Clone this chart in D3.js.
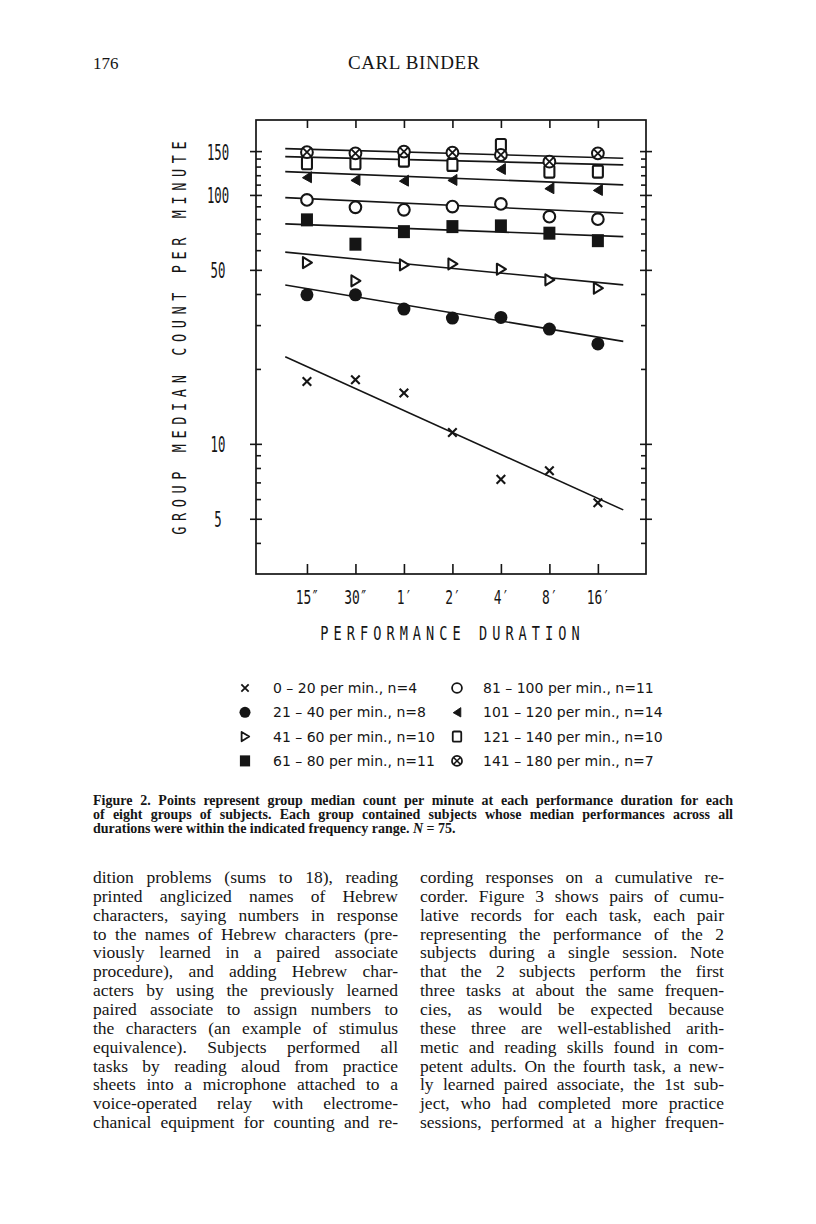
<!DOCTYPE html>
<html>
<head>
<meta charset="utf-8">
<script src="https://cdn.jsdelivr.net/npm/d3@7"></script>
<style>
  body { margin: 0; background: #fff; }
  svg { display: block; }
</style>
</head>
<body>
<svg id="page" width="816" height="1224"></svg>
<script>
// performance durations, in seconds
var durations = [15, 30, 60, 120, 240, 480, 960];
var durationLabels = ['15\u2033', '30\u2033', '1\u2032', '2\u2032', '4\u2032', '8\u2032', '16\u2032'];

var yMajorTicks = [5, 10, 50, 100, 150];
var yMinorTicks = [4, 6, 7, 8, 9, 20, 30, 40, 60, 70, 80, 90, 110, 120, 130, 140];

var groupLabels = [
    '0 \u2013 20 per min., n=4',
    '21 \u2013 40 per min., n=8',
    '41 \u2013 60 per min., n=10',
    '61 \u2013 80 per min., n=11',
    '81 \u2013 100 per min., n=11',
    '101 \u2013 120 per min., n=14',
    '121 \u2013 140 per min., n=10',
    '141 \u2013 180 per min., n=7'
];

// group median count per minute at each duration
var medians0to20 = [17.8, 18.1, 16.0, 11.1, 7.2, 7.8, 5.8];
var medians21to40 = [39.7, 39.7, 34.8, 32.0, 32.2, 28.9, 25.2];
var medians41to60 = [53.5, 45.2, 52.4, 52.8, 50.3, 45.6, 42.2];
var medians61to80 = [79.4, 63.4, 71.2, 74.6, 75.1, 70.2, 65.5];
var medians81to100 = [95.5, 89.2, 87.1, 89.8, 92.0, 81.8, 79.9];
var medians101to120 = [117.8, 114.9, 114.1, 114.9, 127.2, 106.4, 104.7];
var medians121to140 = [134.1, 134.1, 137.4, 132.0, 158.8, 124.1, 124.1];
var medians141to180 = [148.5, 147.0, 149.3, 147.8, 144.7, 136.0, 147.0];

// fitted lines: value at start and end duration
var fitFrom = 11, fitTo = 1380;
var fitStart = [22.4, 43.5, 58.9, 76.5, 97.5, 124.1, 142.5, 153.5];
var fitEnd = [5.43, 25.8, 43.5, 68.0, 84.4, 109.7, 132.0, 140.4];

var captionLines = [
    'Figure 2.  Points represent group median count per minute at each performance duration for each',
    'of eight groups of subjects. Each group contained subjects whose median performances across all'
];

var leftColumn = [
    'dition problems (sums to 18), reading',
    'printed anglicized names of Hebrew',
    'characters, saying numbers in response',
    'to the names of Hebrew characters (pre-',
    'viously learned in a paired associate',
    'procedure), and adding Hebrew char-',
    'acters by using the previously learned',
    'paired associate to assign numbers to',
    'the characters (an example of stimulus',
    'equivalence). Subjects performed all',
    'tasks by reading aloud from practice',
    'sheets into a microphone attached to a',
    'voice-operated relay with electrome-',
    'chanical equipment for counting and re-'
];
var rightColumn = [
    'cording responses on a cumulative re-',
    'corder. Figure 3 shows pairs of cumu-',
    'lative records for each task, each pair',
    'representing the performance of the 2',
    'subjects during a single session. Note',
    'that the 2 subjects perform the first',
    'three tasks at about the same frequen-',
    'cies, as would be expected because',
    'these three are well-established arith-',
    'metic and reading skills found in com-',
    'petent adults. On the fourth task, a new-',
    'ly learned paired associate, the 1st sub-',
    'ject, who had completed more practice',
    'sessions, performed at a higher frequen-'
];

var series = [medians0to20, medians21to40, medians41to60, medians61to80,
    medians81to100, medians101to120, medians121to140, medians141to180];
var symbols = ['cross', 'dot', 'triRight', 'squareFill', 'circle', 'triLeft', 'squareOpen', 'circleCross'];

var ink = '#151515';
var serif = '"Liberation Serif", "Times New Roman", serif';
var mono = '"DejaVu Sans Mono", monospace';

var svg = d3.select('#page');

var x = d3.scaleLog().base(2).domain([7.24, 1910]).range([256, 646]);
var y = d3.scaleLog().domain([3, 200]).range([574, 120]);

// page header
svg.append('text').attr('x', 93).attr('y', 69)
    .style('font-family', serif).style('font-size', '17px').attr('fill', ink)
    .text('176');
svg.append('text').attr('x', 414).attr('y', 69).attr('text-anchor', 'middle')
    .style('font-family', serif).style('font-size', '19px').style('letter-spacing', '0.6px').attr('fill', ink)
    .text('CARL BINDER');

// lettering guide style text, horizontally condensed
function lettering(parent, str, tx, ty, size, sx, spacing, rot) {
    return parent.append('text')
        .attr('transform', 'translate(' + tx + ',' + ty + ')' + (rot ? ' rotate(' + rot + ')' : '') + ' scale(' + sx + ',1)')
        .attr('text-anchor', 'middle')
        .attr('dominant-baseline', 'central')
        .attr('dx', spacing / 2)
        .attr('fill', ink)
        .style('font-family', mono)
        .style('font-size', size + 'px')
        .style('letter-spacing', spacing + 'px')
        .text(str);
}

var chart = svg.append('g');

chart.append('rect')
    .attr('x', x.range()[0]).attr('y', y.range()[1])
    .attr('width', x.range()[1] - x.range()[0])
    .attr('height', y.range()[0] - y.range()[1])
    .attr('fill', 'none').attr('stroke', ink).attr('stroke-width', 1.7);

function styleAxis(g) {
    g.select('.domain').remove();
    g.selectAll('line').attr('stroke', ink).attr('stroke-width', 1.6);
}

// left axis: minor ticks inside, major ticks crossing
chart.append('g').attr('transform', 'translate(256,0)')
    .call(d3.axisRight(y).tickValues(yMinorTicks).tickSize(5).tickFormat(''))
    .call(styleAxis);
chart.append('g').attr('transform', 'translate(256,0)')
    .call(d3.axisRight(y).tickValues(yMajorTicks).tickSize(6).tickFormat(''))
    .call(styleAxis);
var yLabels = chart.append('g').attr('transform', 'translate(256,0)')
    .call(d3.axisLeft(y).tickValues(yMajorTicks).tickSize(6).tickFormat(d3.format('d')))
    .call(styleAxis);
yLabels.selectAll('text')
    .attr('x', -38 / 0.56).attr('dy', '0.36em')
    .attr('text-anchor', 'middle')
    .attr('transform', 'scale(0.56,1)')
    .attr('fill', ink)
    .style('font-family', mono).style('font-size', '22px');

// right axis
chart.append('g').attr('transform', 'translate(646,0)')
    .call(d3.axisLeft(y).tickValues(yMinorTicks).tickSize(5).tickFormat(''))
    .call(styleAxis);
chart.append('g').attr('transform', 'translate(646,0)')
    .call(d3.axisLeft(y).tickValues(yMajorTicks).tickSize(6).tickFormat(''))
    .call(styleAxis);
chart.append('g').attr('transform', 'translate(646,0)')
    .call(d3.axisRight(y).tickValues(yMajorTicks).tickSize(6).tickFormat(''))
    .call(styleAxis);

// bottom and top ticks
chart.append('g').attr('transform', 'translate(0,574)')
    .call(d3.axisTop(x).tickValues(durations).tickSize(10).tickFormat(''))
    .call(styleAxis);
chart.append('g').attr('transform', 'translate(0,120)')
    .call(d3.axisBottom(x).tickValues(durations).tickSize(8).tickFormat(''))
    .call(styleAxis);
var xLabels = chart.append('g').attr('transform', 'translate(0,574)')
    .call(d3.axisBottom(x).tickValues(durations).tickSize(0).tickFormat(function (d, i) { return durationLabels[i]; }))
    .call(styleAxis);
xLabels.selectAll('text')
    .attr('y', 23).attr('dy', '0.36em')
    .attr('transform', 'scale(0.68,1)')
    .attr('fill', ink)
    .style('font-family', mono).style('font-size', '19px');

lettering(chart, 'PERFORMANCE DURATION', 450, 633, 20, 0.68, 7.4);
lettering(chart, 'GROUP MEDIAN COUNT PER MINUTE', 179, 338, 20, 0.68, 8.2, -90);

// fitted lines
var line = d3.line().x(function (d) { return x(d[0]); }).y(function (d) { return y(d[1]); });
chart.append('g').selectAll('path')
    .data(fitStart.map(function (s, i) { return [[fitFrom, s], [fitTo, fitEnd[i]]]; }))
    .join('path')
    .attr('d', line)
    .attr('fill', 'none').attr('stroke', ink).attr('stroke-width', 1.6);

function marker(g, kind) {
    switch (kind) {
        case 'cross':
            g.append('path').attr('d', 'M-4.3,-4.3L4.3,4.3M-4.3,4.3L4.3,-4.3')
                .attr('stroke', ink).attr('stroke-width', 2.1).attr('fill', 'none');
            break;
        case 'dot':
            g.append('circle').attr('r', 6.5).attr('fill', ink);
            break;
        case 'triRight':
            g.append('path').attr('d', 'M-4,-5.5L5,0L-4,5.5Z')
                .attr('stroke', ink).attr('stroke-width', 2.1).attr('stroke-linejoin', 'round').attr('fill', '#fff');
            break;
        case 'squareFill':
            g.append('rect').attr('x', -6).attr('y', -6.5).attr('width', 12).attr('height', 13).attr('fill', ink);
            break;
        case 'circle':
            g.append('circle').attr('r', 5.8)
                .attr('stroke', ink).attr('stroke-width', 2.1).attr('fill', '#fff');
            break;
        case 'triLeft':
            g.append('path').attr('d', 'M4.5,-5.5L-4.5,0.5L4.5,5.5Z')
                .attr('stroke', ink).attr('stroke-width', 1).attr('stroke-linejoin', 'round').attr('fill', ink);
            break;
        case 'squareOpen':
            g.append('rect').attr('x', -5).attr('y', -6).attr('width', 10).attr('height', 12).attr('rx', 1.5)
                .attr('stroke', ink).attr('stroke-width', 2.1).attr('fill', '#fff');
            break;
        case 'circleCross':
            g.append('circle').attr('r', 5.9)
                .attr('stroke', ink).attr('stroke-width', 2).attr('fill', '#fff');
            g.append('path').attr('d', 'M-4,-4L4,4M-4,4L4,-4')
                .attr('stroke', ink).attr('stroke-width', 1.8);
            break;
    }
}

// data points
series.forEach(function (values, k) {
    chart.append('g').selectAll('g')
        .data(values)
        .join('g')
        .attr('transform', function (d, i) { return 'translate(' + x(durations[i]) + ',' + y(d) + ')'; })
        .each(function () { marker(d3.select(this), symbols[k]); });
});

// legend
var legend = svg.append('g');
groupLabels.forEach(function (label, i) {
    var col = Math.floor(i / 4), row = i % 4;
    var ly = 688 + row * 24.3;
    var mx = col ? 457 : 245;
    var tx = col ? 483 : 273;
    var m = legend.append('g').attr('transform', 'translate(' + mx + ',' + ly + ') scale(0.85)');
    marker(m, symbols[i]);
    legend.append('text').attr('x', tx).attr('y', ly).attr('dy', '0.36em')
        .attr('fill', ink)
        .style('font-family', '"DejaVu Sans", sans-serif').style('font-size', '14px')
        .text(label);
});

// justified text helper
function justify(parent, str, x0, x1, baseline) {
    var words = str.split(/\s+/);
    var t = parent.append('text').attr('y', baseline).attr('fill', ink);
    var spans = words.map(function (w) { return t.append('tspan').text(w); });
    var widths = spans.map(function (s) { return s.node().getComputedTextLength(); });
    var gap = (x1 - x0 - d3.sum(widths)) / (words.length - 1);
    var cx = x0;
    spans.forEach(function (s, i) {
        s.attr('x', cx);
        cx += widths[i] + gap;
    });
}

// caption
var caption = svg.append('g')
    .style('font-family', serif).style('font-size', '14px').style('font-weight', 'bold');
captionLines.forEach(function (l, i) { justify(caption, l, 93, 733, 805 + i * 14); });
var last = caption.append('text').attr('x', 93).attr('y', 833).attr('fill', ink);
last.append('tspan').text('durations were within the indicated frequency range. ');
last.append('tspan').style('font-style', 'italic').text('N');
last.append('tspan').text(' = 75.');

// body text, two columns
var body = svg.append('g').style('font-family', serif).style('font-size', '17.5px');
leftColumn.forEach(function (l, i) { justify(body, l, 93, 398, 883 + i * 18.85); });
rightColumn.forEach(function (l, i) { justify(body, l, 420, 724, 883 + i * 18.85); });
</script>
</body>
</html>
